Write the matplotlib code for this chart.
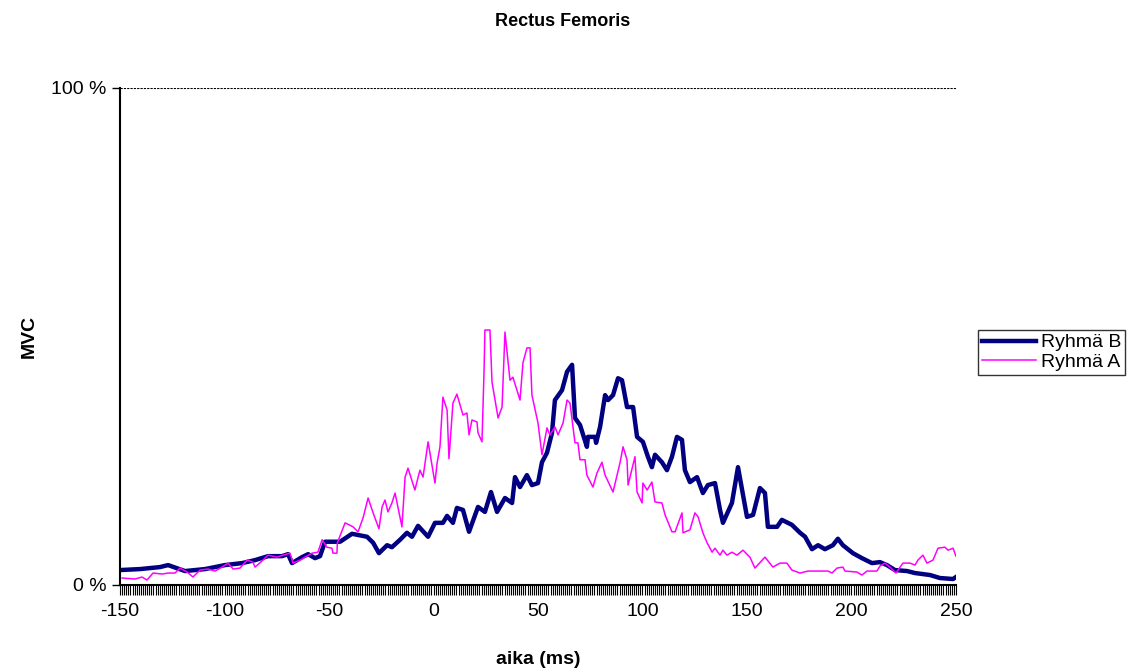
import matplotlib.pyplot as plt
from matplotlib.ticker import MultipleLocator

plt.rcParams['font.family'] = ['Liberation Sans', 'DejaVu Sans']
plt.rcParams['axes.unicode_minus'] = False

# Ryhmä B (navy, thick)
t_b = [-150, -140.4, -130.9, -127.0, -118.9, -109.3, -99.8, -91.6, -85.4, -79.2,
       -72.5, -69.6, -67.7, -62.9, -60.0, -56.7, -54.3, -51.9, -44.7, -39.0,
       -31.8, -28.9, -26.1, -22.2, -19.9, -16.0, -12.7, -10.3, -7.4, -2.6,
       0.7, 4.5, 6.5, 9.3, 11.2, 14.1, 17.0, 21.3, 24.6, 27.5,
       30.4, 34.2, 37.6, 39.0, 41.4, 44.7, 47.1, 50.0, 51.9, 54.3,
       56.7, 58.1, 61.5, 63.9, 66.3, 67.7, 70.1, 73.4, 73.9, 77.3,
       77.8, 79.7, 82.1, 83.5, 85.9, 88.3, 90.2, 92.6, 95.5, 97.4,
       100.2, 102.6, 104.5, 106.0, 109.3, 111.7, 114.1, 116.5, 118.9, 120.3,
       122.7, 126.1, 128.9, 131.3, 134.7, 137.1, 138.5, 142.8, 145.7, 150.0,
       152.9, 156.2, 158.6, 160.0, 164.4, 166.7, 171.5, 175.4, 177.8, 181.1,
       184.0, 187.3, 191.1, 193.5, 195.9, 200.7, 205.0, 209.8, 213.6, 217.0,
       220.8, 226.6, 230.4, 237.6, 242.3, 248.6, 250.0]
mvc_b = [3.0, 3.2, 3.6, 4.0, 2.8, 3.2, 4.0, 4.4, 5.0, 5.8,
         5.8, 6.2, 4.4, 5.6, 6.2, 5.4, 5.8, 8.7, 8.7, 10.3,
         9.7, 8.5, 6.4, 8.0, 7.6, 9.1, 10.5, 9.7, 11.9, 9.7,
         12.5, 12.5, 13.9, 12.5, 15.5, 15.1, 10.7, 15.7, 14.7, 18.7,
         14.7, 17.5, 16.5, 21.7, 19.7, 22.1, 20.1, 20.5, 24.7, 26.6,
         30.6, 37.2, 39.2, 42.9, 44.3, 33.6, 32.2, 27.8, 29.8, 29.8,
         28.6, 31.8, 38.2, 37.2, 38.2, 41.6, 41.2, 35.8, 35.8, 29.8,
         28.8, 25.8, 23.7, 26.2, 24.7, 23.1, 25.8, 29.8, 29.2, 23.1,
         20.7, 21.7, 18.5, 20.1, 20.5, 15.1, 12.5, 16.5, 23.7, 13.7,
         14.1, 19.5, 18.5, 11.7, 11.7, 13.1, 12.1, 10.5, 9.7, 7.2,
         8.0, 7.2, 8.0, 9.3, 8.0, 6.4, 5.4, 4.4, 4.6, 4.0,
         3.0, 2.8, 2.4, 2.0, 1.4, 1.2, 1.6]

# Ryhmä A (magenta, thin)
t_a = [-149.0, -142.8, -139.5, -137.1, -134.2, -129.9, -127.0, -123.7, -121.3, -117.9,
       -115.1, -111.7, -107.9, -104.5, -101.2, -98.3, -95.9, -92.6, -89.2, -86.4,
       -85.4, -81.6, -79.2, -74.9, -72.0, -68.7, -67.2, -63.9, -61.5, -58.1,
       -55.3, -53.3, -51.0, -48.6, -48.1, -46.2, -46.0, -42.3, -38.5, -36.1,
       -33.7, -31.3, -28.9, -26.1, -24.6, -23.2, -21.8, -19.9, -18.4, -15.1,
       -13.6, -12.2, -8.9, -6.5, -5.0, -2.6, 0.7, 1.7, 3.1, 4.5,
       6.5, 7.4, 9.3, 11.2, 14.1, 16.0, 17.0, 18.4, 20.8, 21.3,
       23.2, 24.2, 24.6, 27.0, 28.0, 30.9, 32.8, 34.2, 36.6, 38.0,
       41.4, 42.8, 44.7, 46.2, 47.1, 50.0, 51.9, 54.3, 55.7, 58.1,
       59.6, 62.0, 63.9, 65.3, 67.7, 69.1, 70.1, 72.5, 73.4, 76.3,
       78.2, 80.6, 82.1, 85.9, 89.2, 90.7, 92.6, 93.1, 96.4, 97.4,
       99.8, 100.2, 102.2, 104.5, 106.0, 109.3, 110.8, 114.1, 115.6, 118.9,
       119.4, 122.7, 125.1, 126.6, 128.9, 130.9, 133.3, 134.7, 137.1, 138.5,
       140.4, 142.8, 145.2, 148.1, 151.4, 153.8, 158.6, 162.4, 165.8, 169.1,
       171.5, 175.4, 179.2, 188.8, 190.7, 193.1, 195.9, 196.9, 202.6, 205.0,
       207.4, 212.2, 213.6, 216.0, 218.4, 221.3, 224.6, 228.0, 230.4, 231.8,
       234.2, 236.1, 239.0, 241.4, 244.7, 246.2, 248.6, 250.0]
mvc_a = [1.4, 1.2, 1.6, 1.0, 2.4, 2.2, 2.4, 2.4, 3.4, 2.6,
         1.6, 3.0, 3.2, 2.8, 3.6, 4.4, 3.2, 3.4, 5.0, 4.6,
         3.6, 5.0, 6.0, 5.6, 6.0, 6.4, 4.4, 5.0, 5.6, 6.4,
         6.6, 9.1, 7.6, 7.4, 6.4, 6.4, 8.5, 12.5, 11.7, 10.7,
         13.5, 17.5, 14.5, 11.3, 15.7, 17.1, 14.7, 16.5, 18.5, 11.7,
         21.7, 23.5, 19.1, 23.1, 21.7, 28.8, 20.5, 24.5, 27.8, 37.8,
         35.2, 25.4, 36.6, 38.4, 34.2, 34.6, 30.2, 33.2, 32.8, 30.6,
         28.8, 43.3, 51.3, 51.3, 40.8, 33.6, 35.8, 50.9, 41.2, 41.8,
         37.2, 44.7, 47.7, 47.7, 38.2, 32.6, 26.2, 31.6, 30.2, 31.8,
         30.2, 32.6, 37.2, 36.6, 28.6, 28.6, 25.2, 25.2, 22.1, 19.7,
         22.5, 24.7, 22.1, 18.7, 24.5, 27.8, 25.2, 20.1, 25.8, 18.7,
         16.5, 20.5, 19.1, 20.7, 16.7, 16.5, 14.1, 10.7, 10.7, 14.5,
         10.5, 11.1, 14.5, 13.7, 10.5, 8.5, 6.6, 7.4, 6.0, 7.0,
         6.0, 6.6, 6.0, 7.0, 5.6, 3.4, 5.6, 3.6, 4.4, 4.4,
         3.0, 2.4, 2.8, 2.8, 2.4, 3.4, 3.6, 2.8, 2.6, 2.0,
         2.8, 2.8, 3.8, 4.4, 3.6, 2.4, 4.4, 4.4, 4.0, 5.0,
         6.0, 4.4, 5.0, 7.4, 7.6, 7.0, 7.4, 5.8]

x_ticks = [-150, -100, -50, 0, 50, 100, 150, 200, 250]
y_ticks = [0, 100]
y_labels = ['0 %', '100 %']

fig = plt.figure(figsize=(11.42, 6.69), dpi=100)
ax = fig.add_axes([0.1051, 0.1256, 0.7320, 0.7429])

ax.plot(t_b, mvc_b, color='#000080', linewidth=3.2, label='Ryhmä B')
ax.plot(t_a, mvc_a, color='#FF00FF', linewidth=1.1, label='Ryhmä A')

ax.set_xlim(-150, 250)
ax.set_ylim(0, 100)
ax.set_xticks(x_ticks)
ax.xaxis.set_minor_locator(MultipleLocator(1))
ax.set_yticks(y_ticks)
ax.set_yticklabels(y_labels)
ax.tick_params(axis='x', which='both', direction='out', length=7, width=0.8,
               labelsize=14, pad=6)
ax.tick_params(axis='y', direction='out', length=6, width=1, labelsize=14)
ax.axhline(100, color='black', linewidth=0.8, linestyle=(0, (2, 1)))

ax.spines['top'].set_visible(False)
ax.spines['right'].set_visible(False)
ax.spines['left'].set_linewidth(1.5)
ax.spines['bottom'].set_linewidth(1.5)

ax.set_xlabel('aika (ms)', fontsize=14, fontweight='bold', labelpad=22)
ax.set_ylabel('MVC', fontsize=14, fontweight='bold')
ax.yaxis.set_label_coords(-0.099, 0.5)
fig.text(0.493, 0.968, 'Rectus Femoris', fontsize=13, fontweight='bold',
         ha='center', va='center')

leg = ax.legend(loc='center left', bbox_to_anchor=(1.026, 0.468), fontsize=14,
                frameon=True, fancybox=False, handlelength=2.8,
                handletextpad=0.25, borderpad=0.2, labelspacing=0.1,
                borderaxespad=0)
leg.get_frame().set_edgecolor('black')
leg.get_frame().set_linewidth(1.0)

fig.savefig('out.png', dpi=100)
